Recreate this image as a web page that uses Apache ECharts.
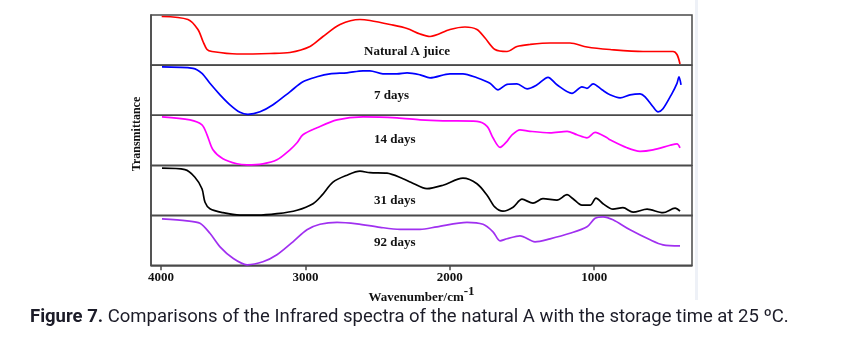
<!DOCTYPE html>
<html>
<head>
<meta charset="utf-8">
<script src="https://cdn.jsdelivr.net/npm/echarts@6/dist/echarts.min.js"></script>
<style>
  html, body { margin: 0; padding: 0; background: #ffffff; }
  #chart { width: 862px; height: 341px; }
</style>
</head>
<body>
<div id="chart"></div>
<script>
// Stacked FTIR spectra: wavenumber (cm-1) vs relative transmittance (0-100 within each strip)
const panelLabels = ['Natural A juice', '7 days', '14 days', '31 days', '92 days'];
const lineColors = ['#ff0000', '#0000ff', '#ff00ff', '#000000', '#a030f0'];
const xTickValues = [4000, 3000, 2000, 1000];

const juiceSpectrum = [
  [3995, 97], [3813, 91], [3744, 71], [3709, 47], [3681, 31], [3647, 27], [3474, 22],
  [3245, 23], [3107, 25], [2968, 37], [2878, 57], [2760, 81], [2622, 91], [2553, 89],
  [2414, 81], [2296, 73], [2206, 62], [2137, 57], [1999, 71], [1895, 76], [1812, 71],
  [1756, 54], [1687, 31], [1604, 27], [1535, 37], [1445, 41], [1306, 44], [1168, 44],
  [1050, 36], [891, 31], [662, 27], [524, 27], [454, 27], [427, 21], [406, 2]
];
const day7Spectrum = [
  [3993, 97], [3778, 94], [3716, 84], [3661, 64], [3591, 41], [3522, 21], [3453, 6],
  [3398, 2], [3314, 7], [3224, 21], [3107, 47], [3017, 67], [2920, 77], [2830, 83],
  [2712, 85], [2601, 89], [2553, 89], [2463, 83], [2366, 83], [2296, 85], [2206, 81],
  [2137, 75], [1999, 83], [1909, 83], [1812, 75], [1722, 64], [1666, 51], [1604, 62],
  [1535, 63], [1465, 53], [1396, 61], [1320, 76], [1258, 61], [1154, 44], [1085, 57],
  [1050, 54], [1008, 63], [946, 51], [891, 41], [821, 35], [752, 41], [683, 43],
  [648, 37], [593, 17], [558, 7], [524, 13], [461, 44], [427, 64], [413, 77], [399, 61]
];
const day14Spectrum = [
  [3993, 97], [3799, 91], [3716, 81], [3681, 61], [3640, 31], [3571, 13], [3474, 3],
  [3404, 1], [3294, 3], [3197, 11], [3107, 31], [3058, 45], [3017, 61], [2920, 75],
  [2781, 91], [2601, 97], [2366, 95], [2206, 91], [2047, 89], [1812, 88], [1742, 78],
  [1701, 55], [1652, 36], [1604, 48], [1569, 61], [1514, 71], [1445, 68], [1306, 65],
  [1188, 68], [1119, 61], [1050, 55], [994, 66], [911, 55], [891, 51], [773, 35],
  [683, 28], [593, 31], [475, 40], [427, 43], [406, 35]
];
const day31Spectrum = [
  [3993, 95], [3834, 92], [3765, 77], [3716, 54], [3695, 27], [3661, 14], [3571, 6],
  [3453, 1], [3335, 1], [3197, 4], [3058, 11], [2947, 24], [2885, 41], [2809, 67],
  [2712, 81], [2622, 89], [2553, 86], [2435, 85], [2324, 74], [2270, 67], [2158, 54],
  [2047, 61], [1909, 75], [1812, 64], [1742, 41], [1687, 17], [1632, 9], [1562, 17],
  [1500, 33], [1424, 25], [1355, 34], [1258, 31], [1188, 42], [1147, 34], [1085, 21],
  [1029, 21], [988, 35], [939, 24], [870, 13], [801, 16], [731, 7], [634, 13],
  [524, 6], [440, 15], [406, 9]
];
const day92Spectrum = [
  [3993, 93], [3820, 89], [3730, 84], [3661, 64], [3591, 37], [3501, 14], [3404, 1],
  [3294, 7], [3197, 21], [3086, 47], [2989, 71], [2899, 82], [2781, 86], [2643, 83],
  [2483, 76], [2345, 72], [2206, 72], [2089, 77], [1881, 86], [1770, 82], [1701, 67],
  [1652, 49], [1604, 53], [1514, 59], [1410, 47], [1306, 53], [1168, 64], [1050, 77],
  [994, 94], [939, 97], [870, 91], [752, 71], [613, 51], [524, 41], [406, 39]
];
const spectra = [juiceSpectrum, day7Spectrum, day14Spectrum, day31Spectrum, day92Spectrum];

// Strip geometry (pixels)
const plotLeft = 151, plotWidth = 541;
const stripTops = [15, 65.3, 115.3, 165.7, 215.3];
const stripHeight = 50;
const xMin = 323, xMax = 4069;

const serif = '"Liberation Serif", "DejaVu Serif", serif';
const frameColor = '#4a4a4a';

const grids = [], xAxes = [], yAxes = [], series = [], labels = [];
spectra.forEach(function (data, i) {
  const last = i === spectra.length - 1;
  grids.push({
    left: plotLeft, width: plotWidth, top: stripTops[i], height: stripHeight,
    show: true, borderColor: frameColor, borderWidth: 1.5, backgroundColor: 'transparent'
  });
  xAxes.push({
    type: 'value', gridIndex: i, min: xMin, max: xMax, inverse: true,
    splitLine: { show: false },
    axisLine: { show: last, lineStyle: { color: frameColor, width: 1.5 } },
    axisTick: {
      show: last, length: 5, inside: false,
      customValues: xTickValues,
      lineStyle: { color: frameColor, width: 1.5 }
    },
    axisLabel: {
      show: last, customValues: xTickValues, margin: 6,
      formatter: function (v) { return String(v); },
      fontFamily: serif, fontWeight: 'bold', fontSize: 13, color: '#111'
    },
    name: last ? '{t|Wavenumber/cm}{s|-1}' : '',
    nameLocation: 'middle', nameGap: 12,
    nameTextStyle: {
      rich: {
        t: { fontFamily: serif, fontWeight: 'bold', fontSize: 13, color: '#111', verticalAlign: 'bottom' },
        s: { fontFamily: serif, fontWeight: 'bold', fontSize: 13, color: '#111', verticalAlign: 'top', padding: [0, 0, 6, 0] }
      }
    }
  });
  yAxes.push({
    type: 'value', gridIndex: i, min: 0, max: 100,
    axisLine: { show: true, lineStyle: { color: frameColor, width: 1.5 } },
    axisTick: { show: false }, axisLabel: { show: false }, splitLine: { show: false }
  });
  series.push({
    type: 'line', xAxisIndex: i, yAxisIndex: i, data: data,
    showSymbol: false, smooth: 0.3, clip: true,
    lineStyle: { color: lineColors[i], width: 1.7 },
    animation: false
  });
});

const labelPos = [[364, 53], [374, 97], [374, 141], [374, 202], [374, 244]];
panelLabels.forEach(function (txt, i) {
  labels.push({
    type: 'text', left: labelPos[i][0], top: labelPos[i][1] - 8,
    style: { text: txt, font: 'bold 13px ' + serif, fill: '#111' }
  });
});

const chart = echarts.init(document.getElementById('chart'), null, { renderer: 'canvas' });
chart.setOption({
  animation: false,
  backgroundColor: '#ffffff',
  grid: grids,
  xAxis: xAxes,
  yAxis: yAxes,
  series: series,
  graphic: labels.concat([
    {
      type: 'text', x: 137, y: 134, rotation: Math.PI / 2,
      style: {
        text: 'Transmittance', font: 'bold 12px ' + serif, fill: '#111',
        align: 'center', verticalAlign: 'middle'
      }
    },
    {
      type: 'rect', shape: { x: 695, y: 0, width: 3, height: 300 },
      style: { fill: '#eef1f7' }, silent: true
    },
    {
      type: 'text', left: 30, top: 308,
      style: {
        text: '{b|Figure 7.} Comparisons of the Infrared spectra of the natural A with the storage time at 25 ºC.',
        font: '18.5px Roboto', fill: '#1c1c28',
        rich: { b: { fontFamily: 'Roboto', fontWeight: 'bold', fontSize: 18.5, fill: '#1c1c28' } }
      }
    }
  ])
});
</script>
</body>
</html>
